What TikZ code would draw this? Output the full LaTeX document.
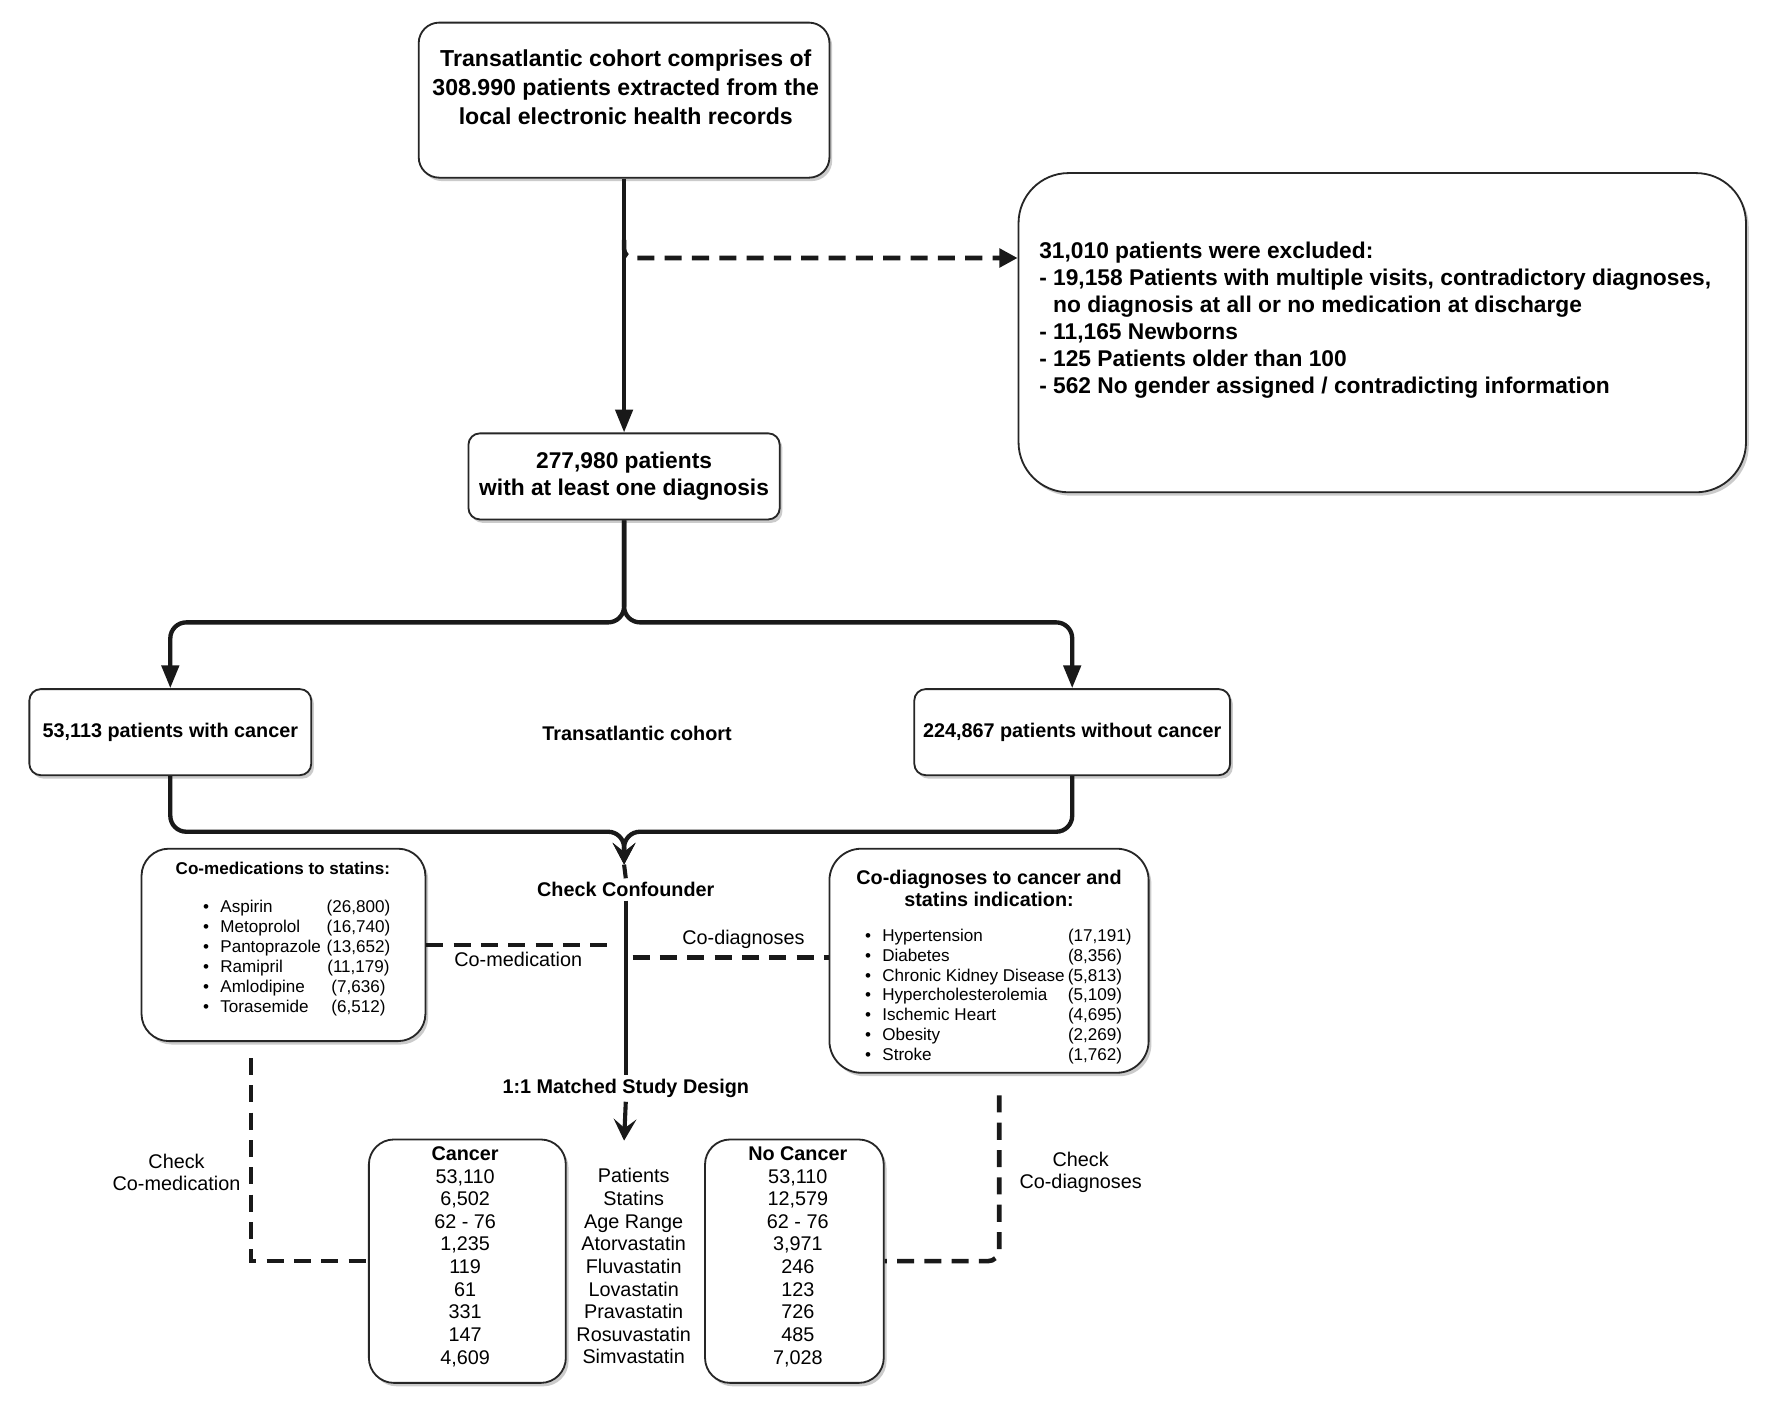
\documentclass[tikz,border=0pt]{standalone}
\usepackage{fontspec}
\setmainfont{Liberation Sans}
\usetikzlibrary{arrows.meta,shadows,calc}
\begin{document}
\begin{tikzpicture}[x=0.497pt,y=-0.497pt,
  box/.style={draw=black!85, line width=0.8pt, fill=white, inner sep=0pt,
    drop shadow={shadow xshift=1.2pt, shadow yshift=-1.5pt, fill=black!40}},
  fbig/.style={font=\fontsize{10.15}{12.7}\selectfont\bfseries},
  fmid/.style={font=\fontsize{10}{11.9}\selectfont\bfseries},
  fsb/.style={font=\fontsize{8.7}{9.95}\selectfont\bfseries},
  fsn/.style={font=\fontsize{8.7}{9.95}\selectfont},
  mainline/.style={line width=1.8pt, draw=black!90},
  thickline/.style={line width=1.9pt, draw=black!90, rounded corners=7pt},
  dashc/.style={line width=2pt, draw=black!90, dash pattern=on 7.5pt off 4.5pt},
  arrtri/.style={-{Triangle[length=10pt,width=7.5pt]}},
  arrst/.style={-{Stealth[length=9.5pt,width=10pt,inset=4pt]}},
  arrsm/.style={-{Triangle[length=8pt,width=8pt]}}
]
\fill[white] (0pt,0pt) rectangle (780pt,-617.5pt);
\useasboundingbox (0pt,0pt) rectangle (780pt,-617.5pt);

% top box
\node[box, rounded corners=9pt, minimum width=180.4pt, minimum height=68.1pt] (top) at (551.5,88.5) {};
\node[fbig, align=center, inner sep=0pt] (toptxt) at (553,77) {Transatlantic cohort comprises of\\308.990 patients extracted from the\\local electronic health records};

% exclusion box
\node[box, rounded corners=22pt, minimum width=319.5pt, minimum height=140.2pt] (excl) at (1221.5,294) {};
\node[font=\fontsize{10}{11.85}\selectfont\bfseries, align=left, anchor=west, inner sep=0pt] (excltxt) at (918,283) {31,010 patients were excluded:\\- 19,158 Patients with multiple visits, contradictory diagnoses,\\\phantom{- }no diagnosis at all or no medication at discharge\\- 11,165 Newborns\\- 125 Patients older than 100\\- 562 No gender assigned / contradicting information};

% second box
\node[box, rounded corners=5pt, minimum width=136.7pt, minimum height=37.8pt, fmid, align=center] (n277) at (551.5,421) {277,980 patients\\with at least one diagnosis};

% cancer / no cancer
\node[box, rounded corners=5pt, minimum width=123.8pt, minimum height=37.8pt, fsb] (can) at (150.5,647) {53,113 patients with cancer};
\node[box, rounded corners=5pt, minimum width=138.7pt, minimum height=37.8pt, fsb] (nocan) at (947.5,647) {224,867 patients without cancer};
\node[fsb] (tc) at (563,648) {Transatlantic cohort};

% connectors top
\draw[mainline, arrtri] (top.south) -- (n277.north);
\coordinate (dstart) at (551.5,212);
\coordinate (dy) at (700,228);
\draw[dashc, rounded corners=4pt, arrsm] (dstart) |- (excl.west |- dy);

\coordinate (split) at (551.5,550);
\draw[thickline, arrtri] (n277.south) -- (split) -| (can.north);
\draw[thickline, arrtri] (n277.south) -- (split) -| (nocan.north);

\coordinate (mergept) at (551.5,735);
\coordinate (cfp) at (551.5,764);
\draw[thickline, arrst] (can.south) |- (mergept) -- (cfp);
\draw[thickline, arrst] (nocan.south) |- (mergept) -- (cfp);

\node[fsb, fill=white, inner sep=1.5pt] (ccl) at (553,786) {Check Confounder};
\node[fsb, fill=white, inner sep=1.5pt] (mml) at (553,962) {1:1 Matched Study Design};
\coordinate (endpt) at (551.5,1008);
\draw[mainline] (cfp) -- (ccl.north);
\draw[mainline] (ccl.south) -- (mml.north);
\draw[mainline, arrst] (mml.south) -- (endpt);

% co-medication box
\node[box, rounded corners=12pt, minimum width=124.7pt, minimum height=84.5pt] (comed) at (250.5,835) {};
\node[font=\fontsize{7.5}{9}\selectfont\bfseries, inner sep=0pt] (comedt) at (250,767) {Co-medications to statins:};
\node[font=\fontsize{7.5}{8.85}\selectfont, inner sep=0pt, anchor=west] (comedl) at (179,847) {%
\begin{tabular}{@{}c@{\hspace{5pt}}l@{\hspace{2.5pt}}c@{}}
\textbullet & Aspirin & (26,800)\\
\textbullet & Metoprolol & (16,740)\\
\textbullet & Pantoprazole & (13,652)\\
\textbullet & Ramipril & (11,179)\\
\textbullet & Amlodipine & (7,636)\\
\textbullet & Torasemide & (6,512)
\end{tabular}};

% co-diagnoses box
\node[box, rounded corners=14pt, minimum width=140.2pt, minimum height=98.4pt] (codiag) at (874,849) {};
\node[fsb, align=center, inner sep=0pt] (codiagt) at (874,785) {Co-diagnoses to cancer and\\statins indication:};
\node[font=\fontsize{7.5}{8.7}\selectfont, inner sep=0pt, anchor=west] (codiagl) at (764,881) {%
\begin{tabular}{@{}c@{\hspace{5pt}}l@{\hspace{1.5pt}}l@{}}
\textbullet & Hypertension & (17,191)\\
\textbullet & Diabetes & (8,356)\\
\textbullet & Chronic Kidney Disease & (5,813)\\
\textbullet & Hypercholesterolemia & (5,109)\\
\textbullet & Ischemic Heart & (4,695)\\
\textbullet & Obesity & (2,269)\\
\textbullet & Stroke & (1,762)
\end{tabular}};

% result boxes
\node[box, rounded corners=11pt, minimum width=86.5pt, minimum height=106.9pt] (cnc) at (413,1114.5) {};
\node[fsn, align=center, inner sep=0pt] (cnct) at (411,1110.5) {\textbf{Cancer}\\53,110\\6,502\\62 - 76\\1,235\\119\\61\\331\\147\\4,609};
\node[fsn, align=center, inner sep=0pt] (midl) at (560,1119) {Patients\\Statins\\Age Range\\Atorvastatin\\Fluvastatin\\Lovastatin\\Pravastatin\\Rosuvastatin\\Simvastatin};
\node[box, rounded corners=11pt, minimum width=78.5pt, minimum height=106.9pt] (ncnc) at (702,1114.5) {};
\node[fsn, align=center, inner sep=0pt] (ncnct) at (705,1110.5) {\textbf{No Cancer}\\53,110\\12,579\\62 - 76\\3,971\\246\\123\\726\\485\\7,028};

% dashed confounder links
\coordinate (cmR) at (544,835);
\draw[dashc] (comed.east) -- (cmR);
\node[fsn, inner sep=0pt] (cmlab) at (458,848) {Co-medication};
\coordinate (cdL) at (559,846);
\draw[dashc] (cdL) -- (codiag.west |- cdL);
\node[fsn, inner sep=0pt] (cdlab) at (657,830) {Co-diagnoses};

\coordinate (cm1) at (222,935);
\draw[dashc] (cm1) |- (cnc.west);
\node[fsn, align=center, inner sep=0pt] (ccmlab) at (156,1036) {Check\\Co-medication};

\coordinate (cd1) at (883,968);
\draw[dashc, rounded corners=5pt] (cd1) |- (ncnc.east);
\node[fsn, align=center, inner sep=0pt] (ccdlab) at (955,1036) {Check\\Co-diagnoses};
\end{tikzpicture}
\end{document}
